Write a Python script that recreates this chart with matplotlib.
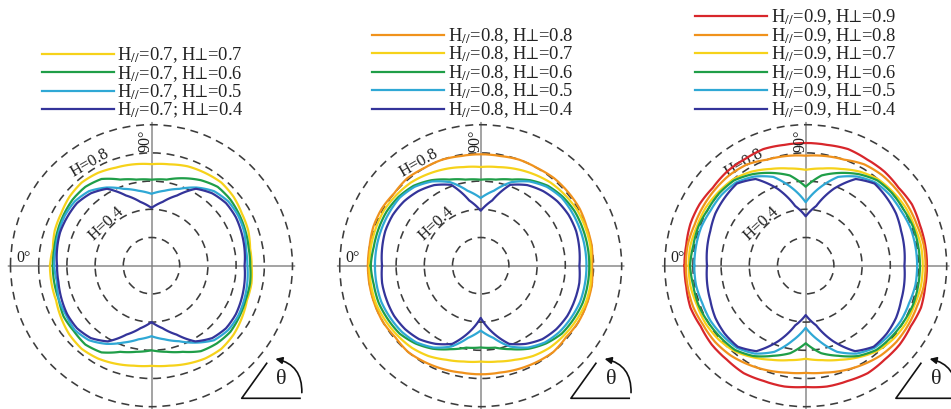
import numpy as np
import matplotlib
matplotlib.use('Agg')
import matplotlib.pyplot as plt
from matplotlib.lines import Line2D
from matplotlib.patches import FancyArrowPatch

plt.rcParams['font.family'] = 'serif'
plt.rcParams['font.serif'] = ['Liberation Serif', 'DejaVu Serif']
plt.rcParams['mathtext.fontset'] = 'stix'

# angle measured from the left (0 deg) towards the top (90 deg)
theta_deg = np.arange(0, 360, 10)

# ---- panel 1 : H// = 0.7 ----
p07_07 = [0.72, 0.71, 0.73, 0.74, 0.76, 0.77, 0.76, 0.74, 0.73, 0.72,
          0.73, 0.75, 0.76, 0.77, 0.76, 0.74, 0.73, 0.71, 0.71,
          0.72, 0.72, 0.74, 0.76, 0.77, 0.76, 0.74, 0.72, 0.71,
          0.72, 0.74, 0.76, 0.77, 0.76, 0.74, 0.72, 0.72]
p07_06 = [0.70, 0.70, 0.71, 0.72, 0.73, 0.73, 0.71, 0.65, 0.62, 0.61,
          0.62, 0.66, 0.70, 0.73, 0.73, 0.72, 0.71, 0.70, 0.70,
          0.71, 0.71, 0.72, 0.73, 0.72, 0.70, 0.65, 0.62, 0.60,
          0.62, 0.65, 0.71, 0.73, 0.72, 0.72, 0.70, 0.70]
p07_05 = [0.69, 0.69, 0.70, 0.71, 0.71, 0.69, 0.64, 0.58, 0.54, 0.51,
          0.54, 0.58, 0.64, 0.69, 0.71, 0.71, 0.70, 0.68, 0.68,
          0.69, 0.70, 0.71, 0.71, 0.69, 0.63, 0.57, 0.53, 0.50,
          0.53, 0.58, 0.64, 0.69, 0.71, 0.70, 0.70, 0.68]
p07_04 = [0.67, 0.68, 0.69, 0.69, 0.69, 0.67, 0.63, 0.53, 0.46, 0.41,
          0.46, 0.53, 0.63, 0.67, 0.69, 0.69, 0.68, 0.67, 0.66,
          0.67, 0.68, 0.69, 0.69, 0.67, 0.62, 0.52, 0.45, 0.40,
          0.45, 0.52, 0.62, 0.67, 0.69, 0.69, 0.68, 0.67]

# ---- panel 2 : H// = 0.8 ----
p08_08 = [0.80, 0.80, 0.81, 0.81, 0.80, 0.81, 0.80, 0.80, 0.79, 0.79,
          0.79, 0.80, 0.80, 0.81, 0.81, 0.81, 0.80, 0.80, 0.79,
          0.80, 0.80, 0.80, 0.79, 0.80, 0.79, 0.78, 0.77, 0.77,
          0.77, 0.78, 0.79, 0.80, 0.79, 0.80, 0.80, 0.80]
p08_07 = [0.79, 0.79, 0.79, 0.79, 0.78, 0.77, 0.75, 0.73, 0.71, 0.70,
          0.71, 0.73, 0.75, 0.77, 0.78, 0.79, 0.79, 0.79, 0.78,
          0.79, 0.79, 0.78, 0.77, 0.76, 0.74, 0.71, 0.69, 0.68,
          0.69, 0.71, 0.74, 0.76, 0.77, 0.78, 0.79, 0.79]
p08_06 = [0.78, 0.77, 0.77, 0.77, 0.76, 0.74, 0.70, 0.65, 0.62, 0.61,
          0.62, 0.65, 0.70, 0.74, 0.76, 0.77, 0.77, 0.77, 0.77,
          0.77, 0.77, 0.76, 0.75, 0.72, 0.68, 0.63, 0.59, 0.58,
          0.59, 0.63, 0.68, 0.72, 0.75, 0.76, 0.77, 0.77]
p08_05 = [0.75, 0.75, 0.75, 0.75, 0.75, 0.73, 0.69, 0.63, 0.54, 0.48,
          0.54, 0.63, 0.69, 0.73, 0.75, 0.75, 0.75, 0.75, 0.75,
          0.75, 0.75, 0.74, 0.73, 0.71, 0.67, 0.61, 0.52, 0.46,
          0.52, 0.61, 0.67, 0.71, 0.73, 0.74, 0.75, 0.75]
p08_04 = [0.70, 0.71, 0.72, 0.72, 0.71, 0.69, 0.66, 0.61, 0.47, 0.39,
          0.47, 0.61, 0.66, 0.69, 0.71, 0.72, 0.72, 0.71, 0.70,
          0.71, 0.71, 0.71, 0.70, 0.68, 0.64, 0.59, 0.48, 0.37,
          0.48, 0.59, 0.64, 0.68, 0.70, 0.71, 0.71, 0.71]

# ---- panel 3 : H// = 0.9 ----
p09_09 = [0.86, 0.86, 0.87, 0.87, 0.86, 0.87, 0.87, 0.88, 0.87, 0.87,
          0.87, 0.88, 0.87, 0.87, 0.86, 0.87, 0.86, 0.86, 0.86,
          0.86, 0.87, 0.86, 0.87, 0.87, 0.88, 0.87, 0.87, 0.86,
          0.87, 0.87, 0.88, 0.87, 0.87, 0.86, 0.87, 0.86]
p09_08 = [0.85, 0.85, 0.84, 0.84, 0.84, 0.84, 0.83, 0.80, 0.79, 0.78,
          0.79, 0.80, 0.83, 0.84, 0.84, 0.84, 0.84, 0.85, 0.85,
          0.85, 0.84, 0.84, 0.84, 0.83, 0.81, 0.79, 0.77, 0.76,
          0.77, 0.79, 0.81, 0.83, 0.84, 0.84, 0.85, 0.85]
p09_07 = [0.83, 0.83, 0.82, 0.82, 0.81, 0.80, 0.77, 0.73, 0.70, 0.68,
          0.70, 0.73, 0.77, 0.80, 0.81, 0.82, 0.82, 0.83, 0.83,
          0.83, 0.82, 0.82, 0.81, 0.79, 0.75, 0.71, 0.68, 0.66,
          0.68, 0.71, 0.75, 0.79, 0.81, 0.82, 0.82, 0.83]
p09_06 = [0.82, 0.81, 0.81, 0.80, 0.80, 0.79, 0.75, 0.70, 0.65, 0.56,
          0.65, 0.70, 0.75, 0.79, 0.80, 0.80, 0.81, 0.81, 0.81,
          0.81, 0.81, 0.80, 0.79, 0.78, 0.74, 0.68, 0.63, 0.55,
          0.63, 0.68, 0.74, 0.78, 0.79, 0.80, 0.81, 0.81]
p09_05 = [0.79, 0.79, 0.79, 0.78, 0.78, 0.77, 0.73, 0.67, 0.56, 0.45,
          0.56, 0.67, 0.73, 0.77, 0.78, 0.78, 0.79, 0.79, 0.79,
          0.79, 0.78, 0.78, 0.77, 0.76, 0.72, 0.65, 0.54, 0.44,
          0.54, 0.65, 0.72, 0.76, 0.77, 0.78, 0.78, 0.79]
p09_04 = [0.70, 0.71, 0.72, 0.74, 0.75, 0.76, 0.71, 0.58, 0.43, 0.35,
          0.43, 0.58, 0.71, 0.76, 0.75, 0.74, 0.72, 0.71, 0.70,
          0.71, 0.72, 0.74, 0.75, 0.75, 0.70, 0.57, 0.43, 0.35,
          0.43, 0.57, 0.70, 0.75, 0.75, 0.74, 0.72, 0.71]

red = '#d8262b'
orange = '#f0921c'
yellow = '#f6d21a'
green = '#1f9e48'
cyan = '#2fa8d5'
navy = '#34349a'

lab = 'H$_{//}$=%s%s H$\\mathrm{\u22a5}$=%s'

panels = [
    (151.5, 41.7, [(p07_07, yellow, lab % ('0.7', ',', '0.7')),
                   (p07_06, green, lab % ('0.7', ',', '0.6')),
                   (p07_05, cyan, lab % ('0.7', ',', '0.5')),
                   (p07_04, navy, lab % ('0.7', ';', '0.4'))]),
    (480.7, 372.0, [(p08_08, orange, lab % ('0.8', ',', '0.8')),
                    (p08_07, yellow, lab % ('0.8', ',', '0.7')),
                    (p08_06, green, lab % ('0.8', ',', '0.6')),
                    (p08_05, cyan, lab % ('0.8', ',', '0.5')),
                    (p08_04, navy, lab % ('0.8', ',', '0.4'))]),
    (805.7, 695.0, [(p09_09, red, lab % ('0.9', ',', '0.9')),
                    (p09_08, orange, lab % ('0.9', ',', '0.8')),
                    (p09_07, yellow, lab % ('0.9', ',', '0.7')),
                    (p09_06, green, lab % ('0.9', ',', '0.6')),
                    (p09_05, cyan, lab % ('0.9', ',', '0.5')),
                    (p09_04, navy, lab % ('0.9', ',', '0.4'))]),
]

W, H = 951, 409
cy = 265.7
rmax = 1.02
half = 141 * rmax   # 141 px per unit radius

fig = plt.figure(figsize=(W / 100, H / 100), dpi=100)
txt = '#222222'

th = np.deg2rad(np.append(theta_deg, 360))

for cx, leg_x, series in panels:
    ax = fig.add_axes([(cx - half) / W, (H - cy - half) / H, 2 * half / W, 2 * half / H],
                      projection='polar')
    ax.set_theta_zero_location('W')
    ax.set_theta_direction(-1)
    ax.set_ylim(0, rmax)
    ax.set_rgrids([0.2, 0.4, 0.6, 0.8, 1.0], labels=[''] * 5)
    ax.set_thetagrids([0, 90, 180, 270], labels=[''] * 4)
    ax.yaxis.grid(True, color='#3c3c3c', linestyle=(0, (5, 3.6)), linewidth=1.15)
    ax.xaxis.grid(True, color='#8a8a8a', linestyle='-', linewidth=1.1)
    ax.spines['polar'].set_visible(False)
    ax.patch.set_visible(False)
    ax.tick_params(length=0)

    handles = []
    for vals, col, label in series:
        r = np.append(vals, vals[0])
        ln, = ax.plot(th, r, color=col, lw=1.6, label=label, zorder=3)
        ln.get_path()._interpolation_steps = 10   # draw segments as arcs
        handles.append(ln)

    ax.legend(handles=handles, loc='lower left',
              bbox_to_anchor=(leg_x / W, (H - 120) / H), bbox_transform=fig.transFigure,
              frameon=False, fontsize=13.3, handlelength=3.9, handletextpad=0.2,
              labelspacing=-0.07, borderpad=0, borderaxespad=0, labelcolor=txt)

    # axis labels on the plot
    ax.text(np.deg2rad(3.3), 0.91, '0°', fontsize=11.5, color=txt, ha='center', va='center')
    ax.text(np.deg2rad(87.4), 0.89, '90°', fontsize=11.5, color=txt, ha='center', va='center',
            rotation=90)
    ax.text(np.deg2rad(59), 0.847, 'H=0.8', fontsize=12, color=txt, ha='center', va='center',
            rotation=30, zorder=2)
    ax.text(np.deg2rad(43.4), 0.437, 'H=0.4', fontsize=12, color=txt, ha='center', va='center',
            rotation=43, zorder=2)

    # theta sign in the lower right corner
    def pos(dx, dy):
        return (0.5 + dx / (2 * half), 0.5 + dy / (2 * half))

    v = pos(90.2, -132.6)
    a = pos(148.5, -132.6)
    b = pos(115.2, -97.6)
    ax.add_line(Line2D([a[0], v[0], b[0]], [a[1], v[1], b[1]], color='#111111', lw=1.2,
                       transform=ax.transAxes, clip_on=False))
    arr = FancyArrowPatch(pos(150.2, -129.7), pos(121.2, -92.6), transform=ax.transAxes,
                          connectionstyle='arc3,rad=0.45', arrowstyle='-|>,head_length=4,head_width=2',
                          color='#111111', lw=1.2, clip_on=False)
    ax.add_patch(arr)
    tp = pos(130.2, -114.3)
    ax.text(tp[0], tp[1], '\u03b8', transform=ax.transAxes, fontsize=16, color=txt,
            ha='center', va='center', clip_on=False)

fig.savefig('out.png', dpi=100)
